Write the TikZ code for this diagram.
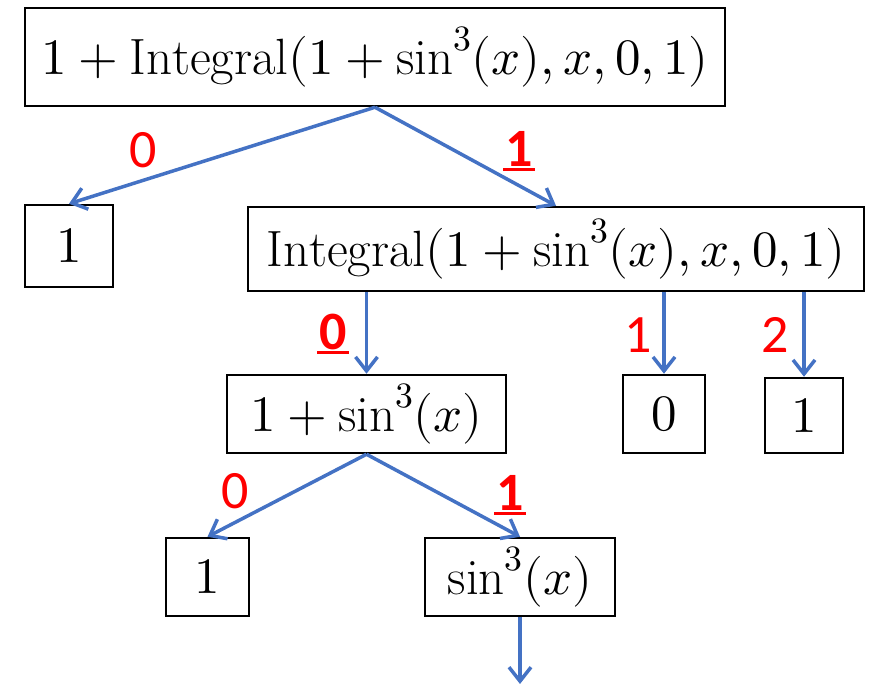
\documentclass[tikz,border=0pt]{standalone}
\usepackage{fontspec}
\usepackage{unicode-math}
\setmathfont{Latin Modern Math}
\newfontfamily\labelfont{Carlito}
\usetikzlibrary{arrows.meta}
\definecolor{edgeblue}{HTML}{4472C4}
\tikzset{
  box/.style={draw, line width=2.5pt, inner sep=0pt, font=\fontsize{51}{56}\selectfont},
  edge/.style={edgeblue, line width=3.5pt, -{Straight Barb[length=14pt,width=22pt,line width=3.5pt]}},
  idx/.style={text=red, inner sep=0pt, font=\labelfont\fontsize{54}{58}\selectfont},
}
\newcommand{\chosen}[1]{\vtop{\hbox{\kern2pt\textbf{#1}\kern2pt}\kern1pt\hrule height 3pt}}
\begin{document}
\begin{tikzpicture}[x=1pt, y=-1pt]
    \useasboundingbox (0,0) rectangle (874,684);

    % Expression tree
    \node[box, minimum width=700pt, minimum height=98pt] (top) at (375,57) {$1+\mathrm{Integral}(1+\sin^3(x),x,0,1)$};
    \node[box, minimum width=88pt, minimum height=82pt] (one) at (69,246) {$1$};
    \node[box, minimum width=616pt, minimum height=84pt] (integ) at (556,249) {$\mathrm{Integral}(1+\sin^3(x),x,0,1)$};
    \node[box, minimum width=279pt, minimum height=78pt] (sum) at (366.5,414) {$1+\sin^3(x)$};
    \node[box, minimum width=82pt, minimum height=78pt] (lower) at (664,414) {$0$};
    \node[box, minimum width=78pt, minimum height=75pt] (upper) at (804,415.5) {$1$};
    \node[box, minimum width=83pt, minimum height=78pt] (const) at (207.5,577) {$1$};
    \node[box, minimum width=190pt, minimum height=78pt] (cube) at (520,577) {$\sin^3(x)$};
    \coordinate (more) at (520,684);

    % Connectors
    \draw[edge] (top.south) -- (one.north);
    \draw[edge] (top.south) -- (integ.north);
    \draw[edge] (integ.south -| sum.north) -- (sum.north);
    \draw[edge] (integ.south -| lower.north) -- (lower.north);
    \draw[edge] (integ.south -| upper.north) -- (upper.north);
    \draw[edge] (sum.south) -- (const.north);
    \draw[edge] (sum.south) -- (cube.north);
    \draw[edge] (cube.south) -- (more);

    % Argument indices
    \node[idx] (i0) at (143,150) {0};
    \node[idx] (i1) at (519,151) {\chosen{1}};
    \node[idx] (j0) at (333,334) {\chosen{0}};
    \node[idx] (j1) at (638,335) {1};
    \node[idx] (j2) at (775,335) {2};
    \node[idx] (k0) at (235,491) {0};
    \node[idx] (k1) at (510,495) {\chosen{1}};
\end{tikzpicture}
\end{document}
